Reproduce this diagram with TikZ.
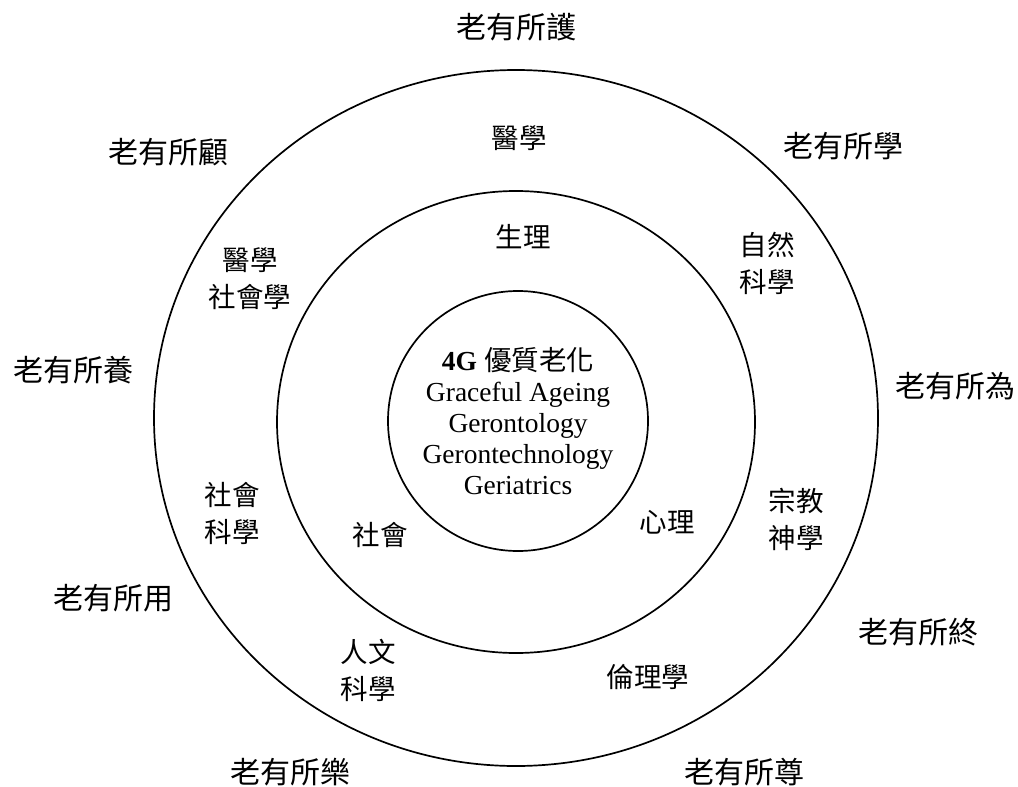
\documentclass[tikz,border=0pt]{standalone}
\usepackage{fontspec}
\setmainfont{Liberation Serif}
\newfontfamily\cjk{Noto Sans CJK TC}
\begin{document}
\begin{tikzpicture}[x=1pt,y=-1pt,
  ring/.style={line width=1.7pt},
  outerlbl/.style={font=\cjk\fontsize{30}{33}\selectfont, inner sep=0pt},
  lbl/.style={font=\cjk\fontsize{27.5}{37}\selectfont, inner sep=0pt, align=center},
  core/.style={font=\fontsize{27.5}{31}\selectfont, inner sep=0pt, align=center}]
\useasboundingbox (0,0) rectangle (1018,787);
% rings
\draw[ring] (516,418) ellipse [x radius=362, y radius=348];
\draw[ring] (516,422) ellipse [x radius=239, y radius=231];
\draw[ring] (518,421) ellipse [x radius=130, y radius=130];
% centre text
\node[core] (core) at (518,421) {\textbf{4G} {\cjk 優質老化}\\Graceful Ageing\\Gerontology\\Gerontechnology\\Geriatrics};
% outer labels
\node[outerlbl] (o1) at (516,27) {老有所護};
\node[outerlbl] (o2) at (168,152) {老有所顧};
\node[outerlbl] (o3) at (843,146) {老有所學};
\node[outerlbl] (o4) at (73,370) {老有所養};
\node[outerlbl] (o5) at (955,386) {老有所為};
\node[outerlbl] (o6) at (113,598) {老有所用};
\node[outerlbl] (o7) at (918,632) {老有所終};
\node[outerlbl] (o8) at (290,772) {老有所樂};
\node[outerlbl] (o9) at (744,772) {老有所尊};
% middle ring labels
\node[lbl] (m1) at (519,138) {醫學};
\node[lbl] (m2) at (250,279) {醫學\\社會學};
\node[lbl] (m3) at (767,263) {自然\\科學};
\node[lbl] (m4) at (232,513) {社會\\科學};
\node[lbl] (m5) at (796,519) {宗教\\神學};
\node[lbl] (m6) at (368,670) {人文\\科學};
\node[lbl] (m7) at (648,677) {倫理學};
% inner ring labels
\node[lbl] (i1) at (523,237) {生理};
\node[lbl] (i2) at (380,535) {社會};
\node[lbl] (i3) at (667,522) {心理};
\end{tikzpicture}
\end{document}
